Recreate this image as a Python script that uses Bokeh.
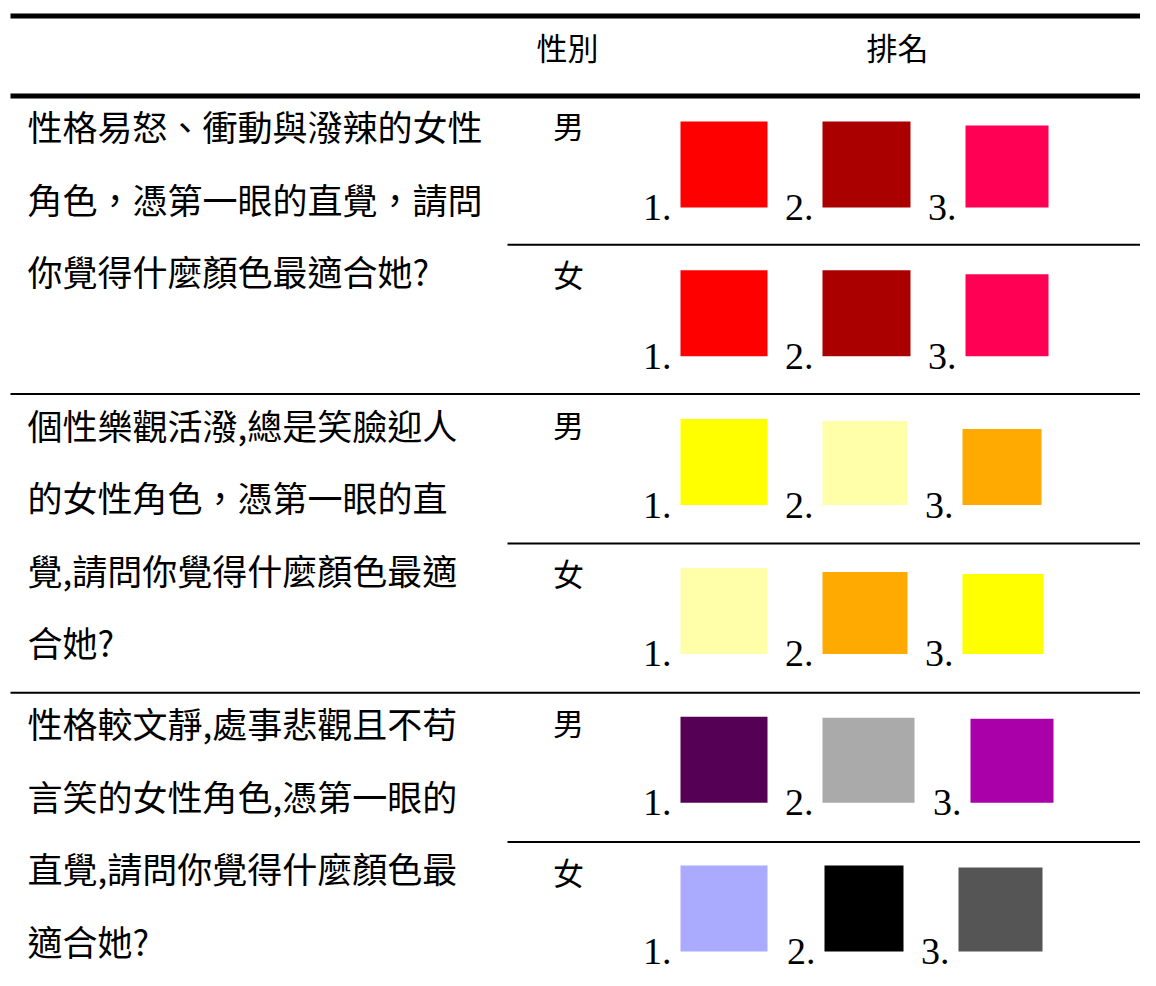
from bokeh.plotting import figure
from bokeh.models import Range1d, ColumnDataSource
from bokeh.core.properties import value
from bokeh.embed import file_html
from bokeh.resources import INLINE

# ---------------- data ----------------
header_gender = "性別"
header_rank = "排名"
genders = ["男", "女"]
question_lines = [
    ["性格易怒、衝動與潑辣的女性", "角色，憑第一眼的直覺，請問", "你覺得什麼顏色最適合她?"],
    ["個性樂觀活潑,總是笑臉迎人", "的女性角色，憑第一眼的直", "覺,請問你覺得什麼顏色最適", "合她?"],
    ["性格較文靜,處事悲觀且不苟", "言笑的女性角色,憑第一眼的", "直覺,請問你覺得什麼顏色最", "適合她?"],
]
rank_labels = ["1.", "2.", "3."]
# colours ranked 1..3 for each (question, gender) row
colors_q1_m = ["#FF0000", "#AA0000", "#FF0055"]
colors_q1_f = ["#FF0000", "#AA0000", "#FF0055"]
colors_q2_m = ["#FFFF00", "#FFFFAA", "#FFAA00"]
colors_q2_f = ["#FFFFAA", "#FFAA00", "#FFFF00"]
colors_q3_m = ["#550055", "#AAAAAA", "#AA00AA"]
colors_q3_f = ["#AAAAFF", "#000000", "#555555"]
row_colors = [colors_q1_m, colors_q1_f, colors_q2_m, colors_q2_f, colors_q3_m, colors_q3_f]

# ---------------- layout (page pixels) ----------------
W, H = 1140, 978
ROW_TOP0 = 95.0
ROW_H = 149.3
BOTTOM0 = 207.0
BOTTOM_STEP = 148.8
sq_x0 = [[680, 822, 965], [680, 822, 965], [680, 822, 962],
         [680, 822, 962], [680, 822, 970], [680, 824, 958]]
sq_x1 = [[767, 910, 1048], [767, 910, 1048], [767, 907, 1041],
         [767, 907, 1043], [767, 914, 1053], [767, 903, 1042]]
sq_h = [[86, 86, 82], [86, 86, 82], [86, 84, 76],
        [86, 82, 80], [86, 85, 84], [86, 86, 84]]

CJK = value("Noto Sans CJK TC")
SERIF = value("Liberation Serif")

p = figure(width=W, height=H, output_backend="svg", toolbar_location=None,
           x_range=Range1d(0, W), y_range=Range1d(H, 0),
           min_border=0)
p.axis.visible = False
p.grid.visible = False
p.outline_line_color = None
p.background_fill_color = "white"

# rules
p.segment(x0=[10, 10], x1=[1156, 1156], y0=[15.5, 95.5], y1=[15.5, 95.5],
          line_color="black", line_width=5)
row_tops = [ROW_TOP0 + ROW_H * r for r in range(6)]
thin_x0, thin_y = [], []
for r in range(1, 6):
    thin_x0.append(507 if r % 2 == 1 else 10)
    thin_y.append(row_tops[r])
p.segment(x0=thin_x0, x1=[1156] * len(thin_y), y0=thin_y, y1=thin_y,
          line_color="black", line_width=2)

# header
p.text(x=[567, 897], y=[46, 46], text=[header_gender, header_rank],
       text_font=CJK, text_font_size="31px", text_align="center",
       text_baseline="middle", text_color="black")

# questions
qx, qy, qt = [], [], []
for g, lines in enumerate(question_lines):
    gtop = row_tops[2 * g]
    for i, ln in enumerate(lines):
        qx.append(27)
        qy.append(gtop + 30 + 72.6 * i)
        qt.append(ln)
p.text(x=qx, y=qy, text=qt, text_font=CJK, text_font_size="35px",
       text_align="left", text_baseline="middle", text_color="black")

# gender labels
gx, gy, gt = [], [], []
for r in range(6):
    gx.append(568)
    gy.append(row_tops[r] + 29)
    gt.append(genders[r % 2])
p.text(x=gx, y=gy, text=gt, text_font=CJK, text_font_size="31px",
       text_align="center", text_baseline="middle", text_color="black")

# colour squares + rank numbers
L, R, T, B, C = [], [], [], [], []
lx, ly, lt = [], [], []
for r in range(6):
    bottom = BOTTOM0 + BOTTOM_STEP * r
    for k in range(3):
        L.append(sq_x0[r][k]); R.append(sq_x1[r][k])
        B.append(bottom); T.append(bottom - sq_h[r][k])
        C.append(row_colors[r][k])
        lx.append(sq_x0[r][k] - 9); ly.append(bottom); lt.append(rank_labels[k])
src = ColumnDataSource(dict(left=L, right=R, top=T, bottom=B, color=C))
p.quad(left="left", right="right", top="top", bottom="bottom",
       fill_color="color", line_color=None, source=src)
p.text(x=lx, y=ly, text=lt, text_font=SERIF, text_font_size="38px",
       text_align="right", text_baseline="alphabetic", text_color="black")

open("out.html", "w").write(file_html(p, INLINE))
